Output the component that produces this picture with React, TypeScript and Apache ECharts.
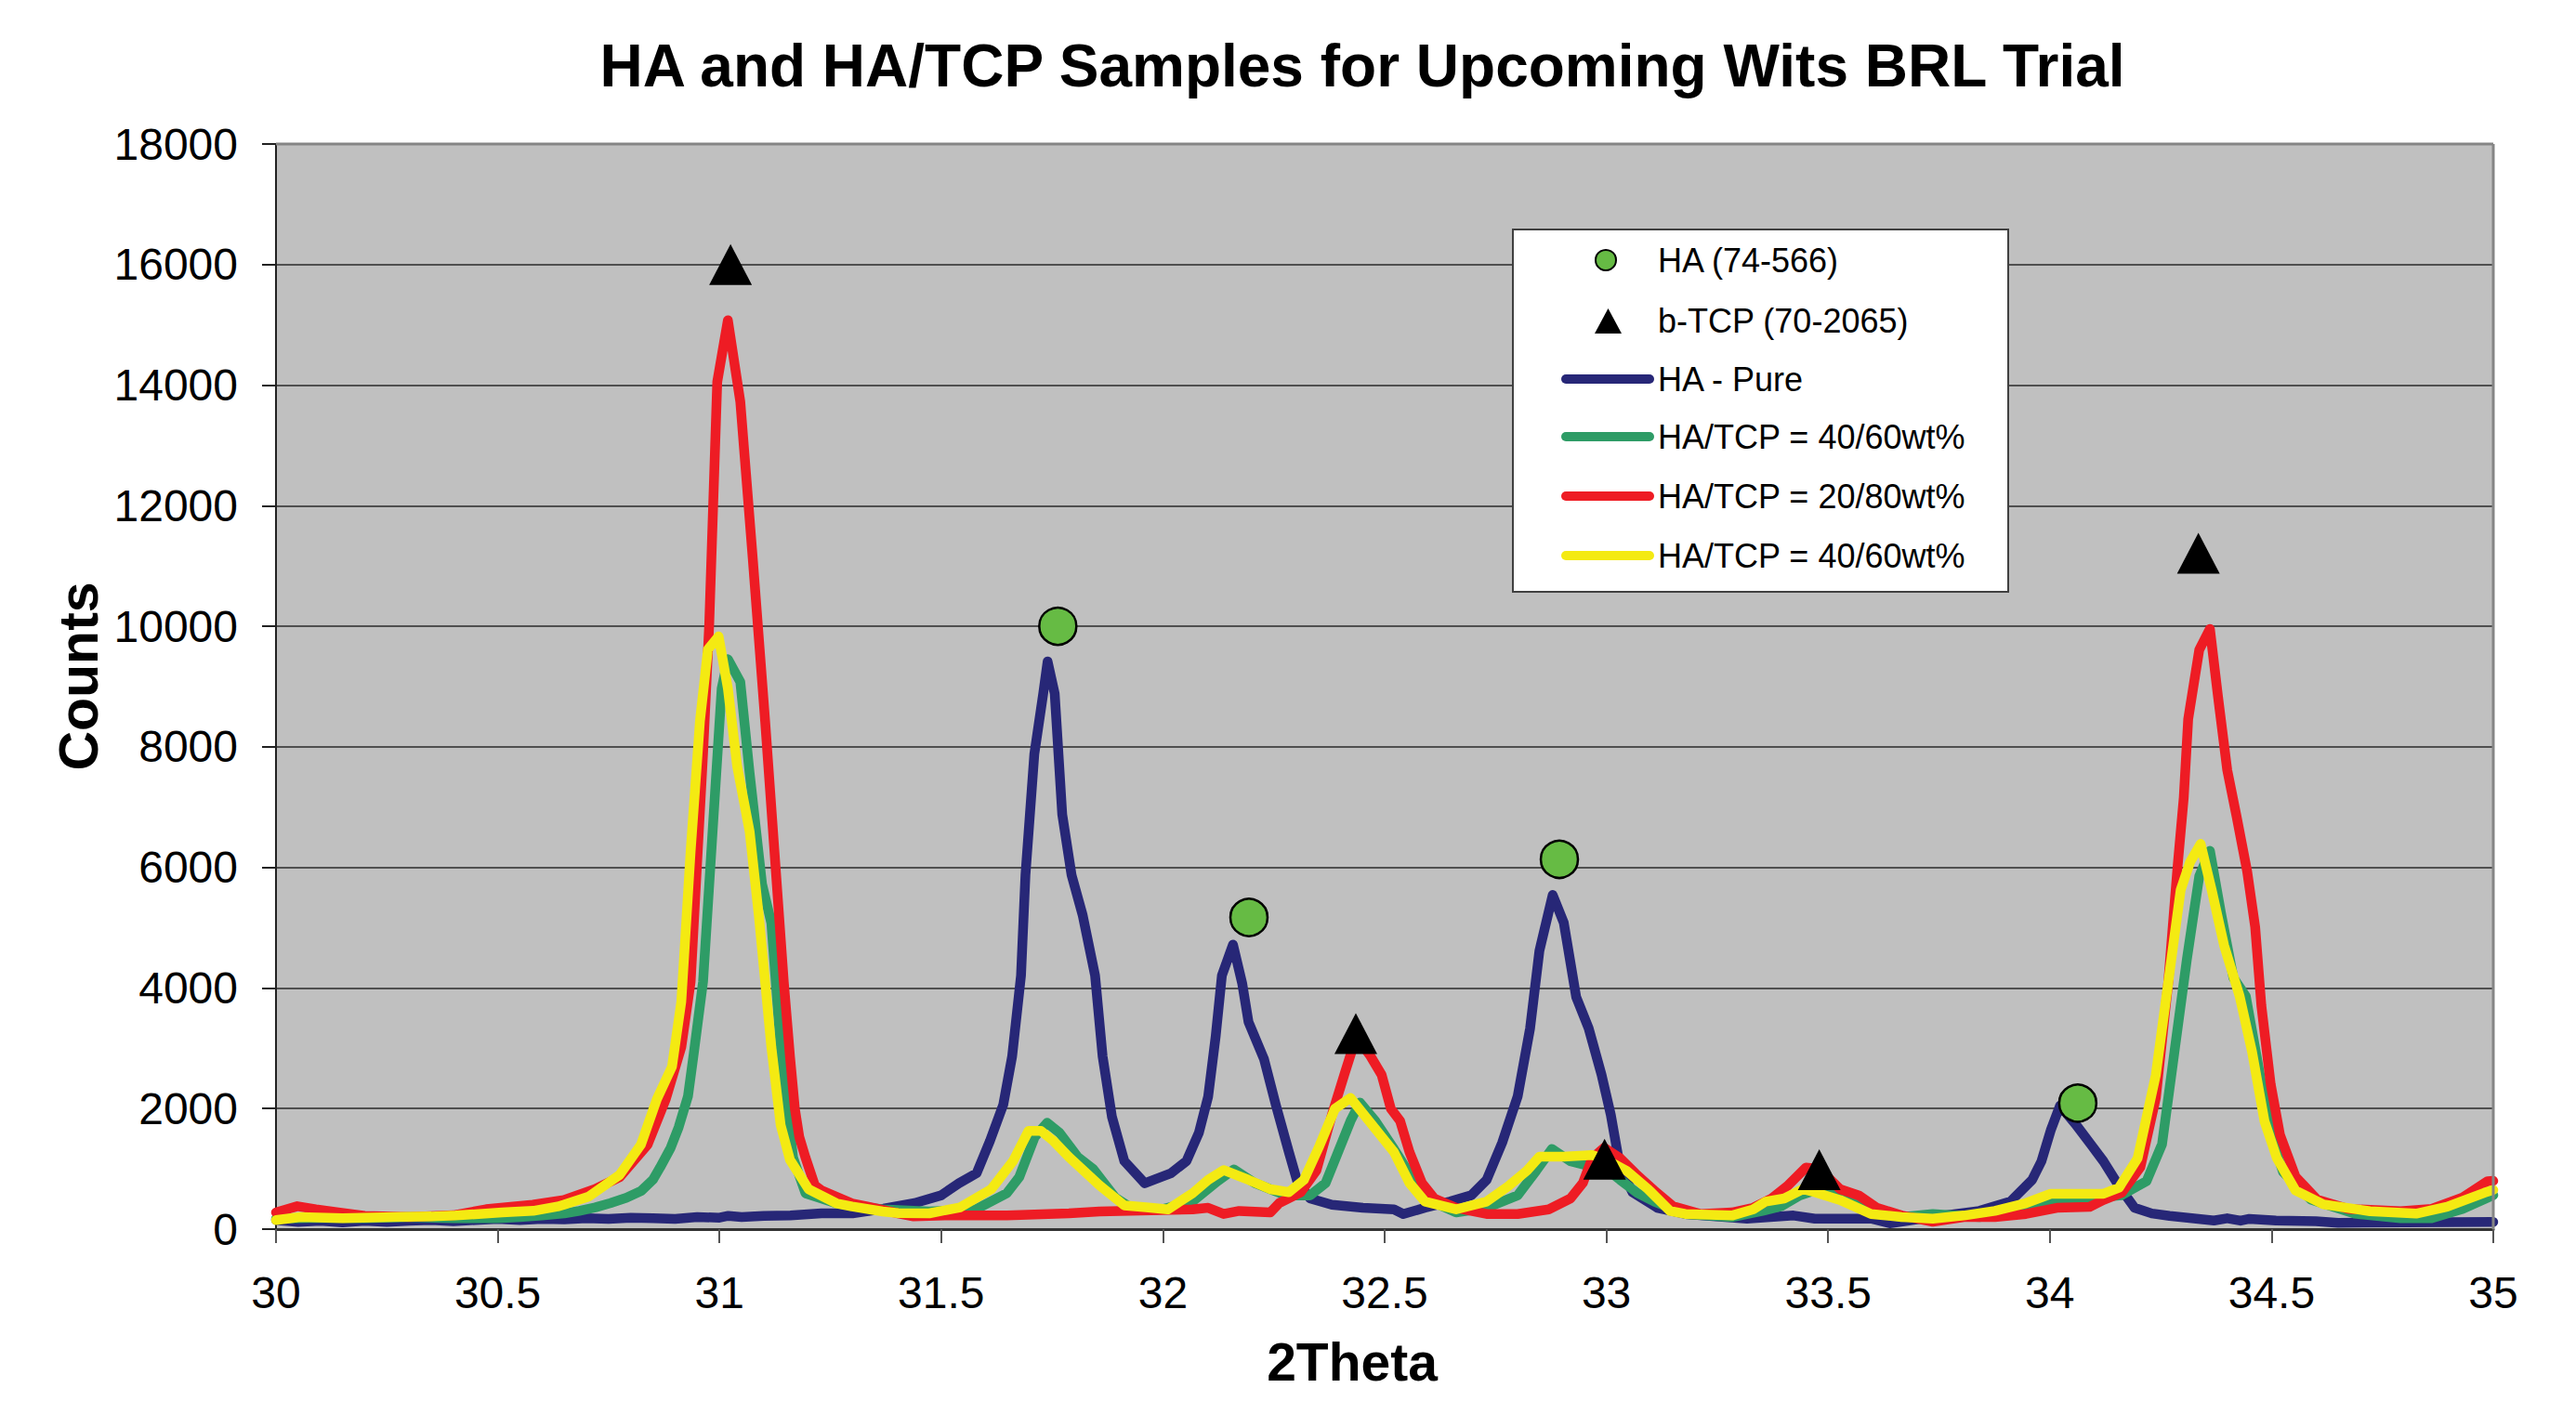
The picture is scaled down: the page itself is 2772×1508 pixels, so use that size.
import React, { useEffect, useRef } from "react";
import * as echarts from "echarts";

const chartTitle = "HA and HA/TCP Samples for Upcoming Wits BRL Trial";
const xAxisTitle = "2Theta";
const yAxisTitle = "Counts";
const legendLabels = [
  "HA (74-566)",
  "b-TCP (70-2065)",
  "HA - Pure",
  "HA/TCP = 40/60wt%",
  "HA/TCP = 20/80wt%",
  "HA/TCP = 40/60wt%",
];

// HA reference peaks (74-566)
const haPeaks: [number, number][] = [
  [31.763, 10000],
  [32.194, 5170],
  [32.894, 6135],
  [34.063, 2090],
];

// b-TCP reference peaks (70-2065)
const tcpPeaks: [number, number][] = [
  [31.025, 16000],
  [32.435, 3245],
  [32.996, 1160],
  [33.48, 985],
  [34.335, 11210],
];

const haPure: [number, number][] = [
  [30.0, 150], [30.05, 120], [30.1, 140], [30.15, 110], [30.2, 140], [30.25, 120],
  [30.3, 140], [30.35, 150], [30.4, 130], [30.45, 150], [30.5, 170], [30.55, 150],
  [30.6, 170], [30.65, 160], [30.7, 180], [30.75, 170], [30.8, 190], [30.85, 180],
  [30.9, 170], [30.95, 200], [31.0, 190], [31.02, 220], [31.05, 200], [31.1, 220],
  [31.16, 226], [31.23, 262], [31.3, 262], [31.37, 340], [31.44, 431], [31.5, 561],
  [31.54, 761], [31.58, 928], [31.61, 1464], [31.64, 2065], [31.66, 2866], [31.68, 4207],
  [31.69, 5873], [31.71, 7878], [31.73, 8881], [31.74, 9416], [31.756, 8881], [31.773, 6876],
  [31.794, 5873], [31.819, 5209], [31.847, 4207], [31.864, 2866], [31.885, 1865], [31.913, 1128],
  [31.959, 761], [32.018, 928], [32.053, 1128], [32.081, 1596], [32.102, 2198], [32.119, 3201],
  [32.133, 4207], [32.158, 4720], [32.179, 4068], [32.193, 3437], [32.228, 2820], [32.255, 2050],
  [32.284, 1279], [32.304, 766], [32.332, 509], [32.381, 405], [32.451, 354], [32.521, 328],
  [32.542, 251], [32.591, 354], [32.647, 457], [32.695, 560], [32.73, 817], [32.765, 1433],
  [32.8, 2204], [32.828, 3333], [32.849, 4618], [32.879, 5543], [32.904, 5081], [32.932, 3848],
  [32.96, 3333], [32.989, 2563], [33.01, 1895], [33.031, 1022], [33.059, 612], [33.115, 354],
  [33.178, 251], [33.317, 174], [33.422, 226], [33.47, 174], [33.597, 174], [33.639, 97],
  [33.736, 200], [33.841, 303], [33.911, 457], [33.96, 817], [33.981, 1125], [34.002, 1638],
  [34.023, 2050], [34.058, 1741], [34.093, 1400], [34.121, 1125], [34.156, 714], [34.191, 354],
  [34.23, 260], [34.27, 220], [34.37, 142], [34.4, 180], [34.43, 140], [34.45, 170],
  [34.51, 142], [34.6, 130], [34.65, 104], [34.8, 110], [35.0, 120],
];

const haTcp4060a: [number, number][] = [
  [30.0, 175], [30.1, 190], [30.2, 180], [30.3, 200], [30.4, 180], [30.5, 180],
  [30.55, 200], [30.6, 226], [30.65, 260], [30.684, 303], [30.72, 360], [30.754, 431],
  [30.79, 520], [30.824, 637], [30.85, 820], [30.866, 1022], [30.89, 1350], [30.908, 1690],
  [30.929, 2204], [30.942, 2911], [30.963, 4104], [30.977, 5726], [30.991, 7350], [31.005, 8969],
  [31.019, 9454], [31.047, 9077], [31.068, 7566], [31.096, 5726], [31.117, 5077], [31.138, 3022],
  [31.166, 1186], [31.194, 595], [31.264, 427], [31.368, 327], [31.473, 293], [31.578, 327],
  [31.648, 595], [31.676, 863], [31.711, 1530], [31.739, 1763], [31.767, 1596], [31.808, 1196],
  [31.843, 995], [31.892, 527], [31.927, 361], [31.997, 327], [32.067, 461], [32.123, 795],
  [32.16, 990], [32.207, 766], [32.277, 560], [32.332, 560], [32.367, 766], [32.395, 1279],
  [32.423, 1792], [32.444, 2100], [32.479, 1792], [32.521, 1330], [32.556, 920], [32.591, 509],
  [32.661, 277], [32.73, 354], [32.8, 560], [32.842, 971], [32.877, 1330], [32.919, 1125],
  [32.96, 1048], [33.0, 1000], [33.031, 817], [33.07, 600], [33.108, 457], [33.178, 251],
  [33.283, 200], [33.352, 303], [33.394, 380], [33.436, 560], [33.478, 663], [33.527, 560],
  [33.597, 303], [33.666, 200], [33.736, 251], [33.841, 200], [33.911, 277], [33.981, 405],
  [34.051, 483], [34.121, 535], [34.162, 564], [34.198, 714], [34.218, 795], [34.253, 1408],
  [34.281, 2942], [34.309, 4475], [34.337, 5856], [34.361, 6276], [34.386, 5241], [34.414, 4168],
  [34.442, 3862], [34.47, 2712], [34.498, 1561], [34.526, 948], [34.589, 488], [34.687, 257],
  [34.791, 180], [34.861, 180], [34.931, 335], [35.0, 564],
];

const haTcp2080: [number, number][] = [
  [30.0, 277], [30.048, 380], [30.09, 329], [30.14, 277], [30.2, 220], [30.3, 200],
  [30.4, 230], [30.474, 330], [30.579, 405], [30.649, 483], [30.719, 663], [30.775, 863],
  [30.838, 1402], [30.879, 2157], [30.914, 3022], [30.935, 4104], [30.963, 7890], [30.977, 10048],
  [30.995, 14055], [31.019, 15077], [31.047, 13725], [31.075, 11130], [31.103, 8429], [31.124, 6266],
  [31.145, 4104], [31.159, 2866], [31.17, 2000], [31.18, 1530], [31.194, 1186], [31.215, 727],
  [31.229, 647], [31.299, 427], [31.333, 375], [31.403, 262], [31.438, 210], [31.508, 226],
  [31.648, 226], [31.788, 262], [31.857, 293], [32.067, 327], [32.102, 354], [32.137, 251],
  [32.172, 302], [32.242, 277], [32.262, 431], [32.311, 612], [32.346, 971], [32.381, 1895],
  [32.409, 2563], [32.43, 3050], [32.445, 3100], [32.468, 2871], [32.493, 2563], [32.514, 1998],
  [32.535, 1792], [32.556, 1279], [32.584, 766], [32.612, 509], [32.661, 354], [32.73, 251],
  [32.8, 251], [32.87, 328], [32.919, 509], [32.947, 766], [32.968, 1176], [32.995, 1350],
  [33.031, 1176], [33.066, 920], [33.108, 640], [33.15, 380], [33.213, 251], [33.283, 277],
  [33.331, 354], [33.373, 509], [33.408, 714], [33.45, 1022], [33.48, 1000], [33.527, 663],
  [33.569, 560], [33.61, 354], [33.666, 226], [33.736, 123], [33.806, 200], [33.876, 200],
  [33.946, 251], [34.016, 354], [34.09, 370], [34.121, 483], [34.162, 603], [34.204, 1025],
  [34.239, 2175], [34.267, 4091], [34.288, 6009], [34.302, 7158], [34.312, 8461], [34.337, 9612],
  [34.361, 9957], [34.379, 8846], [34.4, 7617], [34.421, 6851], [34.445, 5932], [34.463, 5012],
  [34.477, 3708], [34.498, 2404], [34.519, 1561], [34.554, 871], [34.603, 488], [34.673, 335],
  [34.791, 296], [34.861, 335], [34.931, 526], [34.987, 795], [35.0, 800],
];

const haTcp4060b: [number, number][] = [
  [30.0, 150], [30.055, 200], [30.15, 180], [30.265, 200], [30.35, 210], [30.405, 226],
  [30.51, 277], [30.58, 303], [30.635, 375], [30.649, 405], [30.705, 539], [30.775, 900],
  [30.823, 1402], [30.859, 2157], [30.893, 2695], [30.914, 3775], [30.935, 6270], [30.956, 8429],
  [30.974, 9616], [30.998, 9832], [31.019, 8969], [31.04, 7674], [31.068, 6596], [31.089, 5184],
  [31.117, 3022], [31.138, 1726], [31.159, 1150], [31.201, 663], [31.264, 427], [31.299, 375],
  [31.368, 293], [31.403, 267], [31.473, 262], [31.543, 361], [31.613, 663], [31.662, 1128],
  [31.697, 1630], [31.725, 1630], [31.753, 1464], [31.788, 1196], [31.857, 727], [31.913, 393],
  [31.962, 361], [32.011, 327], [32.067, 595], [32.102, 817], [32.137, 980], [32.193, 817],
  [32.242, 663], [32.284, 612], [32.318, 817], [32.353, 1382], [32.388, 1998], [32.423, 2177],
  [32.465, 1792], [32.521, 1279], [32.556, 766], [32.591, 457], [32.661, 328], [32.73, 457],
  [32.779, 714], [32.821, 971], [32.849, 1202], [32.904, 1202], [32.968, 1228], [33.0, 1150],
  [33.045, 971], [33.094, 663], [33.143, 303], [33.178, 251], [33.283, 226], [33.331, 328],
  [33.359, 457], [33.401, 509], [33.443, 663], [33.47, 612], [33.527, 483], [33.597, 251],
  [33.666, 200], [33.736, 174], [33.806, 226], [33.876, 303], [33.946, 431], [34.002, 586],
  [34.051, 586], [34.121, 586], [34.156, 688], [34.198, 1176], [34.239, 2558], [34.267, 4091],
  [34.295, 5625], [34.316, 6084], [34.34, 6391], [34.365, 5625], [34.393, 4705], [34.428, 3862],
  [34.456, 2942], [34.484, 1791], [34.512, 1177], [34.554, 641], [34.617, 411], [34.722, 296],
  [34.826, 257], [34.896, 373], [34.98, 603], [35.0, 650],
];

const FONT = "'Liberation Sans', Arial, sans-serif";
const C_BLUE = "#272777";
const C_GREEN = "#2e9c66";
const C_RED = "#ee1c24";
const C_YELLOW = "#f4ea12";
const C_HA = "#66bb44";

export default function App() {
  const ref = useRef<HTMLDivElement>(null);

  useEffect(() => {
    if (!ref.current) return;
    const chart = echarts.init(ref.current, null, { renderer: "svg" });

    const lineSeries = (name: string, data: [number, number][], color: string, z: number) => ({
      name,
      type: "line",
      data,
      showSymbol: false,
      symbol: "none",
      z,
      lineStyle: { color, width: 10.5, cap: "round", join: "round" },
      itemStyle: { color },
    });

    const legX = 1628;
    const legY = 247;
    const rows = [280, 345, 408, 470, 534, 598];
    const lineColors = [C_BLUE, C_GREEN, C_RED, C_YELLOW];

    const graphics: any[] = [
      {
        type: "text",
        x: 1466,
        y: 71,
        style: {
          text: chartTitle,
          fontFamily: FONT,
          fontWeight: "bold",
          fontSize: 64,
          fill: "#000",
          align: "center",
          verticalAlign: "middle",
        },
      },
      {
        type: "text",
        x: 85,
        y: 728,
        rotation: Math.PI / 2,
        style: {
          text: yAxisTitle,
          fontFamily: FONT,
          fontWeight: "bold",
          fontSize: 59,
          fill: "#000",
          align: "center",
          verticalAlign: "middle",
        },
      },
      {
        type: "text",
        x: 1455,
        y: 1466,
        style: {
          text: xAxisTitle,
          fontFamily: FONT,
          fontWeight: "bold",
          fontSize: 57,
          lineHeight: 57,
          fill: "#000",
          align: "center",
          verticalAlign: "middle",
        },
      },
      {
        type: "line",
        z: 50,
        shape: { x1: 297, y1: 155, x2: 2683, y2: 155 },
        style: { stroke: "#858585", lineWidth: 3 },
      },
      {
        type: "line",
        z: 50,
        shape: { x1: 2683, y1: 155, x2: 2683, y2: 1323 },
        style: { stroke: "#858585", lineWidth: 3 },
      },
      {
        type: "rect",
        z: 60,
        shape: { x: legX, y: legY, width: 533, height: 390 },
        style: { fill: "#ffffff", stroke: "#404040", lineWidth: 2 },
      },
      {
        type: "circle",
        z: 61,
        shape: { cx: 1728, cy: rows[0], r: 11 },
        style: { fill: C_HA, stroke: "#000", lineWidth: 2 },
      },
      {
        type: "polygon",
        z: 61,
        shape: {
          points: [
            [1716, rows[1] + 14],
            [1745, rows[1] + 14],
            [1730.5, rows[1] - 13],
          ],
        },
        style: { fill: "#000" },
      },
    ];
    lineColors.forEach((c, i) => {
      graphics.push({
        type: "line",
        z: 61,
        shape: { x1: 1685, y1: rows[i + 2], x2: 1775, y2: rows[i + 2] },
        style: { stroke: c, lineWidth: 10, lineCap: "round" },
      });
    });
    legendLabels.forEach((t, i) => {
      graphics.push({
        type: "text",
        z: 62,
        x: 1784,
        y: rows[i],
        style: {
          text: t,
          fontFamily: FONT,
          fontSize: 36,
          fill: "#000",
          align: "left",
          verticalAlign: "middle",
        },
      });
    });

    chart.setOption({
      animation: false,
      backgroundColor: "#ffffff",
      grid: {
        left: 297,
        top: 155,
        width: 2386,
        height: 1168,
        show: true,
        backgroundColor: "#c0c0c0",
        borderColor: "#858585",
        borderWidth: 0,
      },
      xAxis: {
        type: "value",
        min: 30,
        max: 35,
        interval: 0.5,
        axisLine: { show: true, onZero: false, lineStyle: { color: "#333", width: 3 } },
        axisTick: { show: true, length: 15, lineStyle: { color: "#555", width: 2 } },
        axisLabel: {
          fontFamily: FONT,
          fontSize: 48,
          color: "#000",
          margin: 44,
          formatter: (v: number) => String(v),
        },
        splitLine: { show: false },
      },
      yAxis: {
        type: "value",
        min: 0,
        max: 18000,
        interval: 2000,
        axisLine: { show: true, lineStyle: { color: "#222", width: 2 } },
        axisTick: { show: true, length: 15, lineStyle: { color: "#222", width: 2 } },
        axisLabel: {
          fontFamily: FONT,
          fontSize: 48,
          color: "#000",
          margin: 41,
          formatter: (v: number) => String(v),
        },
        splitLine: { show: true, lineStyle: { color: "#2a2a2a", width: 1.5 } },
      },
      graphic: graphics,
      series: [
        lineSeries(legendLabels[2], haPure, C_BLUE, 2),
        lineSeries(legendLabels[3], haTcp4060a, C_GREEN, 3),
        lineSeries(legendLabels[4], haTcp2080, C_RED, 4),
        lineSeries(legendLabels[5], haTcp4060b, C_YELLOW, 5),
        {
          name: legendLabels[0],
          type: "scatter",
          data: haPeaks,
          symbol: "circle",
          symbolSize: 40,
          z: 10,
          itemStyle: { color: C_HA, borderColor: "#000", borderWidth: 2.5, opacity: 1 },
        },
        {
          name: legendLabels[1],
          type: "scatter",
          data: tcpPeaks,
          symbol: "triangle",
          symbolSize: [46, 44],
          z: 10,
          itemStyle: { color: "#000", opacity: 1 },
        },
      ],
    });

    return () => chart.dispose();
  }, []);

  return (
    <div
      ref={ref}
      style={{ position: "fixed", left: 0, top: 0, width: 2772, height: 1508 }}
    />
  );
}
